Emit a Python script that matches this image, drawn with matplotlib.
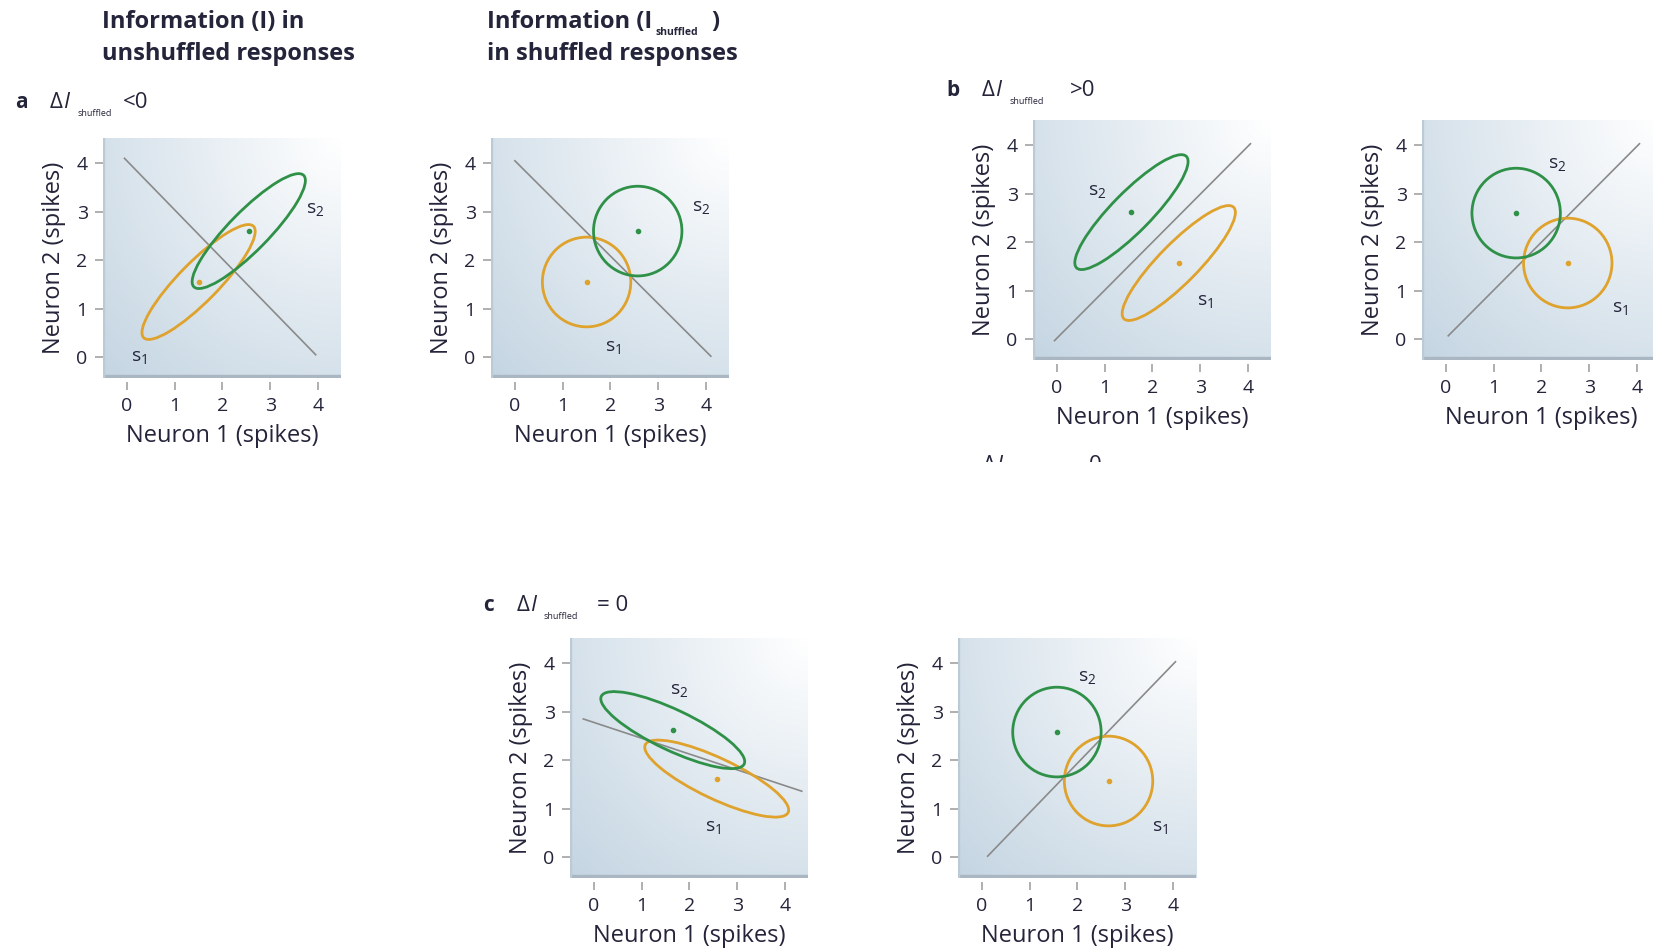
import numpy as np
import matplotlib
matplotlib.use('Agg')
import matplotlib.pyplot as plt
from matplotlib.patches import Ellipse, Rectangle
from matplotlib.colors import LinearSegmentedColormap
from matplotlib.transforms import Bbox

plt.rcParams['font.family'] = ['Open Sans', 'DejaVu Sans']
plt.rcParams['mathtext.fontset'] = 'custom'
plt.rcParams['mathtext.rm'] = 'Open Sans'
plt.rcParams['mathtext.it'] = 'Open Sans:italic'

# Panel order: a unshuffled, a shuffled, b unshuffled, b shuffled, c unshuffled, c shuffled
panelNames = ['a_unshuffled', 'a_shuffled', 'b_unshuffled', 'b_shuffled', 'c_unshuffled', 'c_shuffled']

# Mean response (neuron 1, neuron 2) to each stimulus
s1MeanX = [1.50, 1.50, 2.55, 2.55, 2.57, 2.65]
s1MeanY = [1.55, 1.55, 1.57, 1.57, 1.62, 1.57]
s2MeanX = [2.55, 2.57, 1.56, 1.47, 1.65, 1.57]
s2MeanY = [2.60, 2.60, 2.62, 2.60, 2.62, 2.58]

# Response spread: ellipse axis lengths and tilt (degrees)
majorAxis = [3.25, 1.85, 3.25, 1.85, 3.30, 1.85]
minorAxis = [0.82, 1.85, 0.82, 1.85, 0.84, 1.85]
tiltDeg = [45, 0, 45, 0, -25, 0]

# Decision boundary end points
boundaryX = [(-0.05, 3.95), (0.0, 4.1), (-0.05, 4.05), (0.05, 4.05), (-0.22, 4.35), (0.12, 4.05)]
boundaryY = [(4.10, 0.05), (4.05, 0.02), (-0.03, 4.03), (0.07, 4.03), (2.85, 1.36), (0.02, 4.03)]

# Stimulus labels
s1LabelX = [0.25, 2.05, 3.10, 3.65, 2.50, 3.73]
s1LabelY = [0.00, 0.20, 0.78, 0.65, 0.62, 0.62]
s2LabelX = [3.95, 3.90, 0.85, 2.33, 1.78, 2.20]
s2LabelY = [3.05, 3.10, 3.05, 3.62, 3.45, 3.72]
s1LabelText = ['s$_1$'] * 6
s2LabelText = ['s$_2$'] * 6

tickValues = [0, 1, 2, 3, 4]

W, H = 1653, 951
GREEN = '#2f9148'
ORANGE = '#dfa22c'
TEXT = '#24243a'

fig = plt.figure(figsize=(W / 100, H / 100), dpi=100)

# Panel boxes in pixels (left, top)
panelBoxes = {
  'a_unshuffled': (103, 138), 'a_shuffled': (491, 138),
  'b_unshuffled': (1033, 120), 'b_shuffled': (1422, 120),
  'c_unshuffled': (570, 638), 'c_shuffled': (958, 638),
}
BOX_W, BOX_H = 238, 240

gx, gy = np.meshgrid(np.linspace(0, 1, 200), np.linspace(0, 1, 200))
shade = np.sqrt((1 - gx) ** 2 + (1 - gy) ** 2) / np.sqrt(2)
shadeMap = LinearSegmentedColormap.from_list('shade', ['#ffffff', '#c4d5e2'])

'''
Draw one scatter panel with the two response ellipses.
'''
def drawPanel(i):
  left, top = panelBoxes[panelNames[i]]
  ax = fig.add_axes([left / W, 1 - (top + BOX_H) / H, BOX_W / W, BOX_H / H])
  ax.imshow(shade, extent=[0, 1, 0, 1], transform=ax.transAxes, origin='lower',
            cmap=shadeMap, vmin=0, vmax=1, aspect='auto', zorder=0)
  ax.add_patch(Rectangle((0, 0), 1, 0.012, transform=ax.transAxes, color='#aab7c3', zorder=1))
  ax.add_patch(Rectangle((0, 0), 0.005, 1, transform=ax.transAxes, color='#bccad6', zorder=1))

  # Boundary line
  ax.plot(boundaryX[i], boundaryY[i], color='#8a8a8a', lw=1.2, zorder=2)

  # Stimulus ellipses and means
  for mx, my, col in [(s1MeanX[i], s1MeanY[i], ORANGE), (s2MeanX[i], s2MeanY[i], GREEN)]:
    ax.add_patch(Ellipse((mx, my), majorAxis[i], minorAxis[i], angle=tiltDeg[i],
                         fill=False, edgecolor=col, lw=2.0, zorder=3))
    ax.plot(mx, my, 'o', color=col, ms=3, zorder=4)

  ax.text(s1LabelX[i], s1LabelY[i], s1LabelText[i], fontsize=14, color=TEXT, ha='center', va='center')
  ax.text(s2LabelX[i], s2LabelY[i], s2LabelText[i], fontsize=14, color=TEXT, ha='center', va='center')

  ax.set_xlim(-0.5, 4.48)
  ax.set_ylim(-0.43, 4.52)
  ax.set_xticks(tickValues)
  ax.set_yticks(tickValues)
  for side in ['top', 'right', 'left', 'bottom']:
    ax.spines[side].set_visible(False)
  ax.spines['bottom'].set_position(('outward', 3))
  ax.tick_params(direction='out', length=6, width=1.1, color='#9a9a9a',
                 labelsize=14, labelcolor=TEXT, pad=5)
  ax.set_xlabel('Neuron 1 (spikes)', fontsize=17, color=TEXT)
  ax.set_ylabel('Neuron 2 (spikes)', fontsize=17, color=TEXT)
  ax.xaxis.set_label_coords(0.5, -0.19)
  ax.yaxis.set_label_coords(-0.155, 0.5)

def figText(x, y, s, **kw):
  return fig.text(x / W, 1 - y / H, s, va='baseline', ha='left', color=TEXT, **kw)

'''
Panel header such as "a  ΔI shuffled <0".
'''
def header(letter, letterX, deltaX, subX, signX, baseY, sign):
  figText(letterX, baseY, letter, fontsize=15, fontweight='bold')
  figText(deltaX, baseY, 'Δ', fontsize=16)
  figText(deltaX + 13, baseY, 'I', fontsize=16, style='italic')
  figText(subX, baseY + 8, 'shuffled', fontsize=6.5)
  figText(signX, baseY, sign, fontsize=16)

for i in range(len(panelNames)):
  drawPanel(i)

# Column titles
figText(102, 28, 'Information (I) in', fontsize=17, fontweight='bold')
figText(102, 60, 'unshuffled responses', fontsize=17, fontweight='bold')
figText(487, 28, 'Information (I', fontsize=17, fontweight='bold')
figText(655, 35, 'shuffled', fontsize=7.5, fontweight='bold')
figText(711, 28, ')', fontsize=17, fontweight='bold')
figText(487, 60, 'in shuffled responses', fontsize=17, fontweight='bold')

header('a', 15, 50, 78, 123, 108, '<0')
header('b', 946, 982, 1009, 1070, 96, '>0')
header('c', 483, 517, 544, 597, 611, '= 0')

# Stray header cut off below panel b
clip = Bbox.from_extents(0, H - 462, W, H)
for t in [figText(983, 471, 'Δ', fontsize=16), figText(996, 471, 'I', fontsize=16, style='italic'),
          figText(1089, 471, '0', fontsize=16)]:
  t.set_clip_box(clip)
  t.set_clip_on(True)

plt.savefig('out.png', dpi=100)
